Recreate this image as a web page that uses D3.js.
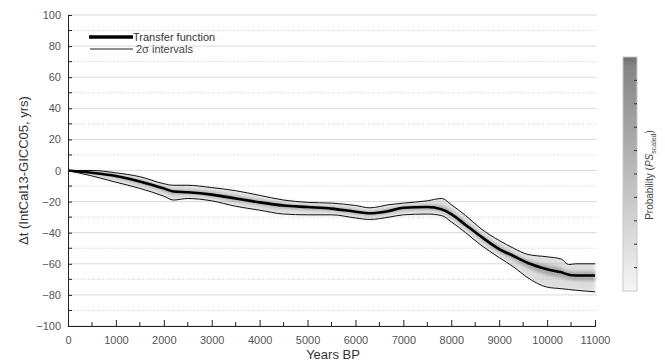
<!DOCTYPE html>
<html><head><meta charset="utf-8">
<script src="https://cdn.jsdelivr.net/npm/d3@7"></script>
<style>
html,body{margin:0;padding:0;background:#fff;}
svg{display:block;font-family:"Liberation Sans",Arial,sans-serif;}
</style></head>
<body>
<svg id="c" width="665" height="363"></svg>
<script>
const years = [0,500,1000,1500,2000,2200,2500,3000,3500,4000,4500,5000,5500,6000,6300,6700,7000,7500,7800,8000,8300,8600,9000,9300,9600,10000,10300,10450,10600,11000];
const transfer = [0,-1.5,-3.5,-7,-11.5,-13.5,-14,-15.5,-18,-20.5,-22.5,-23.5,-24.5,-26.5,-27.5,-26,-24,-23.5,-25,-28,-35,-42,-50.5,-55,-59.5,-63.5,-65.5,-67,-67.5,-67.5];
const upper2s = [0,0,-1.5,-4,-8.5,-9.5,-9.5,-11,-13,-16,-19,-20.5,-21,-22.5,-24,-22,-21,-19.5,-18,-22,-29,-37,-45,-50,-54,-55.5,-57,-60.5,-60,-60];
const lower2s = [0,-3.5,-7.5,-11.5,-16.5,-19,-18,-19.5,-23,-25.5,-28,-28.5,-28.5,-30.5,-31.5,-30,-28.5,-28,-29,-33,-40,-47.5,-56,-62,-69,-75,-76,-76.5,-77,-78];
const xTicks = [0,1000,2000,3000,4000,5000,6000,7000,8000,9000,10000,11000];
const yTicks = [100,80,60,40,20,0,-20,-40,-60,-80,-100];
const legendLabels = ["Transfer function","2σ intervals"];

const svg = d3.select("#c");
const x = d3.scaleLinear().domain([0,11000]).range([68,595]);
const y = d3.scaleLinear().domain([-100,100]).range([326,15]);

const defs = svg.append("defs");
defs.append("filter").attr("id","blur").append("feGaussianBlur").attr("stdDeviation",1.6);
const grad = defs.append("linearGradient").attr("id","cb").attr("x1",0).attr("y1",0).attr("x2",0).attr("y2",1);
grad.append("stop").attr("offset","0%").attr("stop-color","#6e6e6e");
grad.append("stop").attr("offset","4%").attr("stop-color","#858585");
grad.append("stop").attr("offset","100%").attr("stop-color","#f6f6f6");

// gridlines
const minor = d3.range(-90,100,20);
svg.append("g").selectAll("line").data(yTicks).join("line")
  .attr("x1",x(0)).attr("x2",597).attr("y1",d=>y(d)).attr("y2",d=>y(d))
  .attr("stroke","#d9d9d9").attr("stroke-width",1);
svg.append("g").selectAll("line").data(minor).join("line")
  .attr("x1",x(0)).attr("x2",597).attr("y1",d=>y(d)).attr("y2",d=>y(d))
  .attr("stroke","#cfcfcf").attr("stroke-width",1).attr("stroke-dasharray","1,1.5");

// probability shading
const rows = years.map((yr,i)=>({yr, c:transfer[i], u:upper2s[i], l:lower2s[i]}));
const outer = d3.area().x(d=>x(d.yr)).y0(d=>y(d.l)).y1(d=>y(d.u)).curve(d3.curveMonotoneX);
const inner = d3.area().x(d=>x(d.yr)).y0(d=>y((d.l+d.c*2)/3)).y1(d=>y((d.u+d.c*2)/3)).curve(d3.curveMonotoneX);
svg.append("path").datum(rows).attr("d",outer).attr("fill","#b5b5b5").attr("opacity",0.45).attr("filter","url(#blur)");
svg.append("path").datum(rows).attr("d",inner).attr("fill","#808080").attr("opacity",0.55).attr("filter","url(#blur)");

// lines
const line = key => d3.line().x(d=>x(d.yr)).y(d=>y(d[key])).curve(d3.curveMonotoneX);
svg.append("path").datum(rows).attr("d",line("u")).attr("fill","none").attr("stroke","#111").attr("stroke-width",1);
svg.append("path").datum(rows).attr("d",line("l")).attr("fill","none").attr("stroke","#111").attr("stroke-width",1);
svg.append("path").datum(rows).attr("d",line("c")).attr("fill","none").attr("stroke","#000").attr("stroke-width",2.6);

// axes
const ax = svg.append("g").attr("transform",`translate(0,${y(-100)})`)
  .call(d3.axisBottom(x).tickValues(xTicks).tickSize(-6).tickPadding(10).tickFormat(d3.format("d")));
ax.select(".domain").attr("stroke","#222");
ax.selectAll(".tick line").attr("stroke","#222");
ax.selectAll("text").attr("font-size",11).attr("fill","#555");
svg.append("g").selectAll("line").data(d3.range(500,11000,1000)).join("line")
  .attr("x1",d=>x(d)).attr("x2",d=>x(d)).attr("y1",y(-100)).attr("y2",y(-100)-4).attr("stroke","#222");

const ay = svg.append("g").attr("transform",`translate(${x(0)},0)`)
  .call(d3.axisLeft(y).tickValues(yTicks).tickSize(-4).tickPadding(7));
ay.select(".domain").attr("stroke","#222");
ay.selectAll(".tick line").attr("stroke","#222");
ay.selectAll("text").attr("font-size",11).attr("fill","#555");
svg.append("g").selectAll("line").data(minor).join("line")
  .attr("x1",x(0)).attr("x2",x(0)+4).attr("y1",d=>y(d)).attr("y2",d=>y(d)).attr("stroke","#222");

// axis titles
svg.append("text").attr("x",333).attr("y",359).attr("text-anchor","middle").attr("font-size",13).attr("fill","#333").text("Years BP");
svg.append("text").attr("transform",`translate(28,${y(0)}) rotate(-90)`).attr("text-anchor","middle").attr("font-size",13).attr("fill","#333").text("Δt (IntCal13-GICC05, yrs)");

// legend
svg.append("line").attr("x1",89).attr("x2",133).attr("y1",37).attr("y2",37).attr("stroke","#000").attr("stroke-width",3.5);
svg.append("line").attr("x1",90).attr("x2",133).attr("y1",49).attr("y2",49).attr("stroke","#222").attr("stroke-width",1);
svg.append("text").attr("x",133).attr("y",41).attr("font-size",11).attr("fill","#333").text(legendLabels[0]);
svg.append("text").attr("x",136).attr("y",53).attr("font-size",11).attr("fill","#444").text(legendLabels[1]);

// colorbar
const cbY = d3.scaleLinear().domain([0,1]).range([291,57]);
svg.append("rect").attr("x",623).attr("y",cbY(1)).attr("width",14).attr("height",cbY(0)-cbY(1))
  .attr("fill","url(#cb)").attr("stroke","#c8c8c8").attr("stroke-width",1);
svg.append("g").selectAll("line").data(d3.range(0.1,1.0,0.1)).join("line")
  .attr("x1",634).attr("x2",637).attr("y1",d=>cbY(d)).attr("y2",d=>cbY(d)).attr("stroke","#333");
const pl = svg.append("text").attr("transform","translate(653,175) rotate(-90)").attr("text-anchor","middle").attr("font-size",10).attr("fill","#444");
pl.append("tspan").text("Probability (");
pl.append("tspan").attr("font-style","italic").text("PS");
pl.append("tspan").attr("font-size",7).attr("dy",3).text("scaled");
pl.append("tspan").attr("dy",-3).text(")");
</script>
</body></html>
